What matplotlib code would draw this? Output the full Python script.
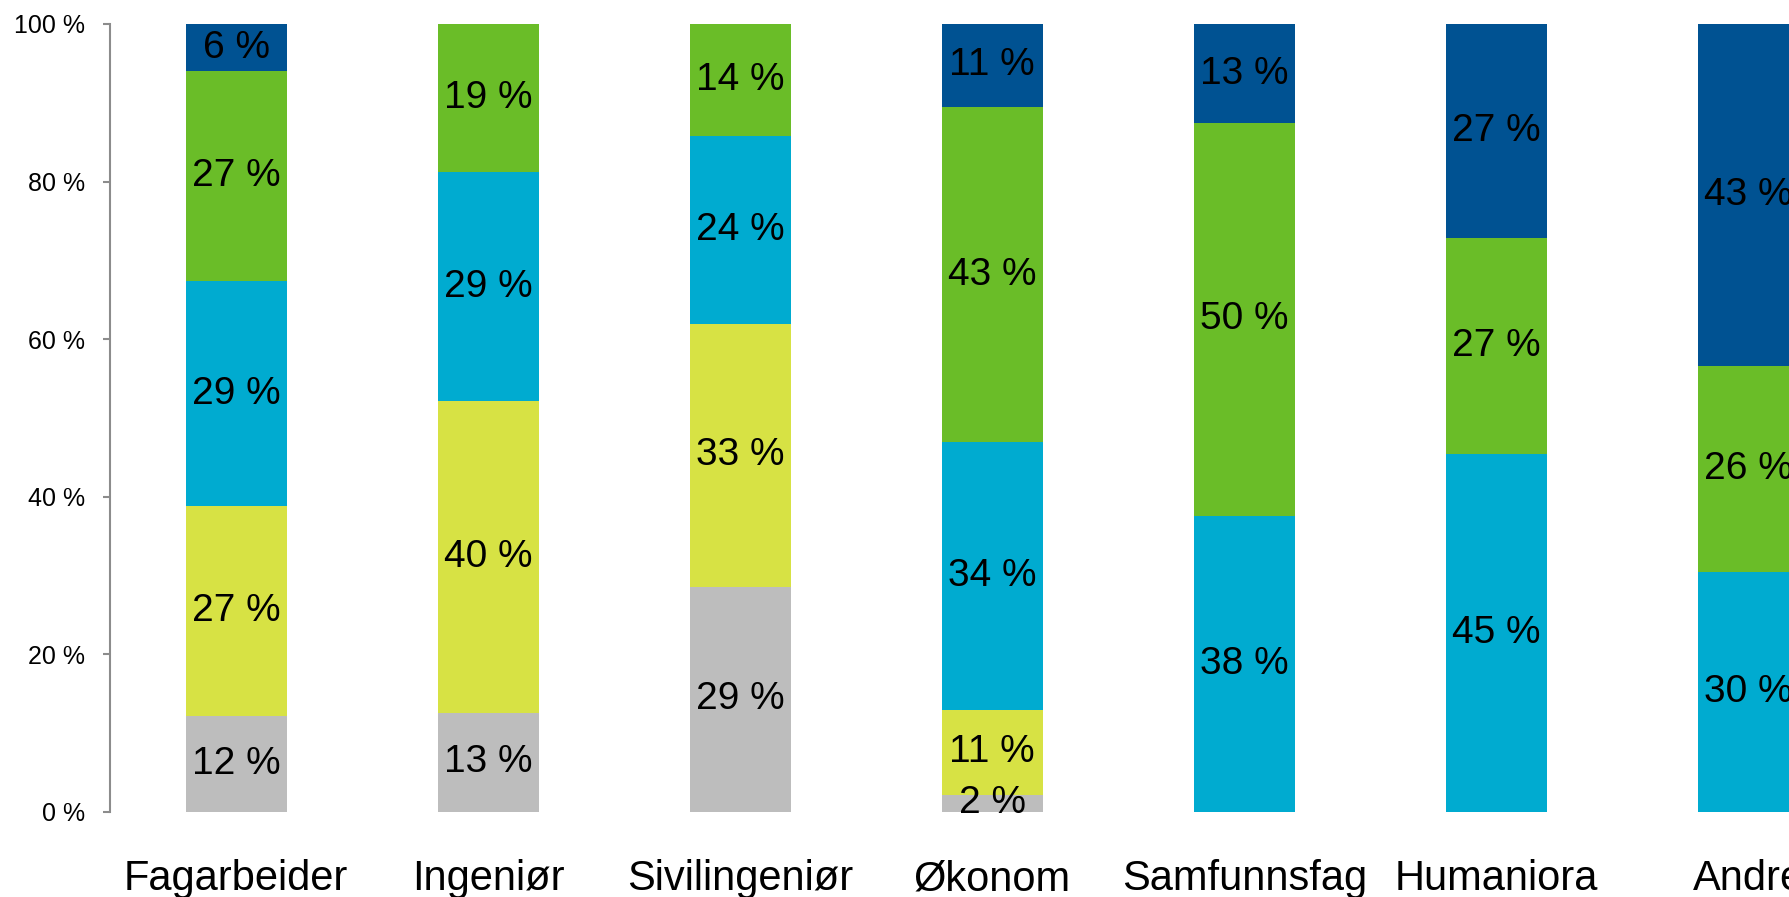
import matplotlib

matplotlib.use("Agg")

import matplotlib.pyplot as plt  # noqa: E402
import numpy as np  # noqa: E402


CATEGORIES = ["Fagarbeider", "Ingeniør", "Sivilingeniør", "Økonom",
              "Samfunnsfag", "Humaniora", "Andre"]

# stacked shares in percent, bottom to top
GREY = [12.2, 12.6, 28.6, 2.2, 0.0, 0.0, 0.0]
YELLOW = [26.6, 39.5, 33.3, 10.7, 0.0, 0.0, 0.0]
CYAN = [28.6, 29.1, 23.9, 34.0, 37.6, 45.4, 30.4]
GREEN = [26.6, 18.8, 14.2, 42.6, 49.8, 27.4, 26.2]
BLUE = [6.0, 0.0, 0.0, 10.5, 12.6, 27.2, 43.4]

YTICKS = [0, 20, 40, 60, 80, 100]

SERIES = [
    (GREY, "#BDBDBD"),
    (YELLOW, "#D7E244"),
    (CYAN, "#00ABD0"),
    (GREEN, "#6ABD28"),
    (BLUE, "#005292"),
]

plt.rcParams["font.family"] = ["Liberation Sans", "DejaVu Sans"]

fig = plt.figure(figsize=(17.9, 8.97), dpi=100)
ax = fig.add_axes([0.0615, 0.0948, 0.9385, 0.8785])

x = np.arange(len(CATEGORIES))
bottom = np.zeros(len(CATEGORIES))
for values, color in SERIES:
    values = np.asarray(values, dtype=float)
    ax.bar(x, values, width=0.4, bottom=bottom, color=color, linewidth=0)
    for xi, b, v in zip(x, bottom, values):
        if v > 0:
            ax.text(xi, b + v / 2, f"{int(v + 0.5)} %", ha="center",
                    va="center", fontsize=28, color="black", clip_on=False)
    bottom += values

ax.set_xlim(-0.5, 6.165)
ax.set_ylim(0, 100)
ax.set_yticks(YTICKS)
ax.set_yticklabels([f"{t} %" for t in YTICKS], fontsize=18)
ax.set_xticks(x)
ax.set_xticklabels(CATEGORIES, fontsize=30)
ax.tick_params(axis="x", length=0, pad=34)
ax.tick_params(axis="y", direction="out", length=5, width=1.5,
               color="#8C8C8C", pad=13)

for side in ["top", "right", "bottom"]:
    ax.spines[side].set_visible(False)
ax.spines["left"].set_color("#8C8C8C")
ax.spines["left"].set_linewidth(1.5)

fig.savefig("out.png", dpi=100)
